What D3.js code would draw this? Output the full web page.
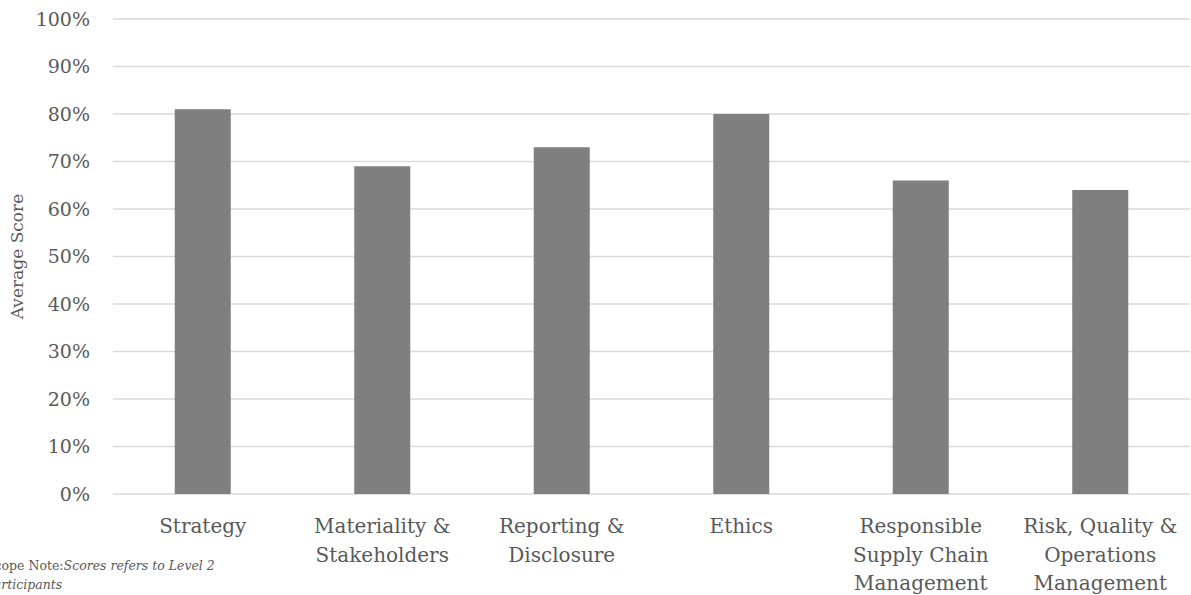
<!DOCTYPE html>
<html>
<head>
<meta charset="utf-8">
<script src="https://cdn.jsdelivr.net/npm/d3@7"></script>
<style>
  html, body { margin: 0; padding: 0; background: #fff; }
  svg { display: block; }
  text { font-family: "DejaVu Serif", serif; fill: #595959; }
</style>
</head>
<body>
<svg id="chart" width="1191" height="595"></svg>
<script>
// Average score per assessment area
const categories = [
  ["Strategy"],
  ["Materiality &", "Stakeholders"],
  ["Reporting &", "Disclosure"],
  ["Ethics"],
  ["Responsible", "Supply Chain", "Management"],
  ["Risk, Quality &", "Operations", "Management"]
];
const scores = [0.81, 0.69, 0.73, 0.80, 0.66, 0.64];
const yTicks = [0, 0.1, 0.2, 0.3, 0.4, 0.5, 0.6, 0.7, 0.8, 0.9, 1.0];

const svg = d3.select("#chart");
const plot = { left: 113, right: 1190, top: 19, bottom: 494 };

const x = d3.scaleBand()
  .domain(d3.range(categories.length))
  .range([plot.left, plot.right])
  .paddingInner(0.688)
  .paddingOuter(0.344);

const y = d3.scaleLinear().domain([0, 1]).range([plot.bottom, plot.top]);

// Horizontal gridlines
svg.append("g")
  .selectAll("line")
  .data(yTicks)
  .join("line")
  .attr("x1", plot.left)
  .attr("x2", plot.right)
  .attr("y1", d => y(d))
  .attr("y2", d => y(d))
  .attr("stroke", "#d9d9d9")
  .attr("stroke-width", 1.5);

// Y axis tick labels
svg.append("g")
  .selectAll("text")
  .data(yTicks)
  .join("text")
  .attr("x", 90)
  .attr("y", d => y(d))
  .attr("dy", "0.35em")
  .attr("text-anchor", "end")
  .style("font-size", "19px")
  .text(d => d3.format(".0%")(d));

// Bars
svg.append("g")
  .selectAll("rect")
  .data(scores)
  .join("rect")
  .attr("x", (d, i) => x(i))
  .attr("width", x.bandwidth())
  .attr("y", d => y(d))
  .attr("height", d => y(0) - y(d))
  .attr("fill", "#7f7f7f");

// Category labels (multi-line)
const cat = svg.append("g")
  .selectAll("text")
  .data(categories)
  .join("text")
  .attr("text-anchor", "middle")
  .style("font-size", "20px");
cat.selectAll("tspan")
  .data((d, i) => d.map(line => ({ line, i })))
  .join("tspan")
  .attr("x", d => x(d.i) + x.bandwidth() / 2)
  .attr("y", (d, j) => 533 + j * 28.5)
  .text(d => d.line);

// Y axis title
svg.append("text")
  .attr("transform", `translate(23, ${(plot.top + plot.bottom) / 2}) rotate(-90)`)
  .attr("text-anchor", "middle")
  .style("font-size", "17px")
  .text("Average Score");

// Footnote, set hard against the left page edge
const note = svg.append("g").style("font-size", "12.5px");
const l1 = note.append("text").attr("x", -14).attr("y", 570);
l1.append("tspan").text("Scope Note:");
l1.append("tspan").style("font-style", "italic").text("Scores refers to Level 2");
note.append("text")
  .attr("x", -14)
  .attr("y", 589)
  .style("font-style", "italic")
  .text("Participants");
</script>
</body>
</html>
